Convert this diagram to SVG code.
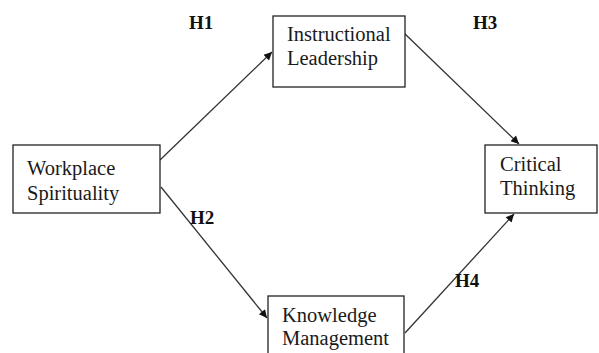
<svg xmlns="http://www.w3.org/2000/svg" width="599" height="353" viewBox="0 0 599 353">
<defs>
<style>
.box{fill:#fff;stroke:#222;stroke-width:1.3}
.t{font-family:"Liberation Serif","Times New Roman",serif;font-size:20.5px;fill:#1a1a1a}
.h{font-family:"Liberation Serif","Times New Roman",serif;font-size:19px;font-weight:bold;fill:#111}
.c{stroke:#333;stroke-width:1.3;fill:none;marker-end:url(#ah)}
</style>
<marker id="ah" viewBox="0 0 10 10" refX="10" refY="5" markerWidth="10" markerHeight="8" markerUnits="userSpaceOnUse" orient="auto">
<path d="M0,0 L10,5 L0,10 Z" fill="#111"/>
</marker>
</defs>
<rect width="599" height="353" fill="#fff"/>
<g id="connectors">
<line class="c" x1="160" y1="160" x2="272" y2="52"/>
<line class="c" x1="161" y1="187" x2="267" y2="318"/>
<line class="c" x1="404" y1="33" x2="519" y2="144"/>
<line class="c" x1="405" y1="333" x2="514" y2="214"/>
</g>
<g id="workplace">
<rect class="box" x="13" y="145" width="147" height="68"/>
<text class="t" x="27" y="175">Workplace</text>
<text class="t" x="27" y="200">Spirituality</text>
</g>
<g id="instructional">
<rect class="box" x="273" y="16" width="132" height="71"/>
<text class="t" x="287" y="41">Instructional</text>
<text class="t" x="287" y="65">Leadership</text>
</g>
<g id="critical">
<rect class="box" x="485" y="145" width="112" height="68"/>
<text class="t" x="500" y="171">Critical</text>
<text class="t" x="500" y="195">Thinking</text>
</g>
<g id="knowledge">
<rect class="box" x="268" y="296" width="136" height="70"/>
<text class="t" x="282" y="322">Knowledge</text>
<text class="t" x="282" y="345">Management</text>
</g>
<g id="labels">
<text class="h" x="189" y="29">H1</text>
<text class="h" x="190" y="224">H2</text>
<text class="h" x="473" y="29">H3</text>
<text class="h" x="455" y="287">H4</text>
</g>
</svg>
